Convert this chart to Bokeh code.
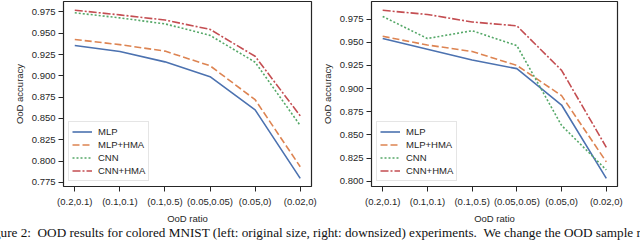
from bokeh.plotting import figure
from bokeh.models import FixedTicker, Range1d, Legend, LegendItem, Div
from bokeh.layouts import row, column
from bokeh.embed import file_html
from bokeh.resources import INLINE

categories = ["(0.2,0.1)", "(0.1,0.1)", "(0.1,0.5)", "(0.05,0.05)", "(0.05,0)", "(0.02,0)"]
series_names = ["MLP", "MLP+HMA", "CNN", "CNN+HMA"]

left_mlp = [0.9355, 0.9286, 0.9164, 0.899, 0.860, 0.7796]
left_mlp_hma = [0.9427, 0.9366, 0.929, 0.9118, 0.872, 0.7933]
left_cnn = [0.974, 0.968, 0.961, 0.9475, 0.916, 0.8417]
left_cnn_hma = [0.977, 0.9715, 0.9655, 0.9545, 0.9229, 0.853]

right_mlp = [0.954, 0.9425, 0.9309, 0.9215, 0.8823, 0.8032]
right_mlp_hma = [0.9564, 0.947, 0.940, 0.925, 0.8924, 0.821]
right_cnn = [0.9778, 0.954, 0.9624, 0.9463, 0.8603, 0.8123]
right_cnn_hma = [0.9844, 0.9799, 0.9718, 0.9677, 0.9197, 0.8367]

left_ticks = [0.775, 0.800, 0.825, 0.850, 0.875, 0.900, 0.925, 0.950, 0.975]
right_ticks = [0.800, 0.825, 0.850, 0.875, 0.900, 0.925, 0.950, 0.975]

caption_text = ("Figure 2: &nbsp;OOD results for colored MNIST (left: original size, right: downsized) "
                "experiments. &nbsp;We change the OOD sample ratio")

colors = ["#4c72b0", "#dd8452", "#55a868", "#c44e52"]
dashes = ["solid", "7 3", "2 2", "8 2 2 2"]

FONT = "Liberation Sans"
TXT = "#262626"


def make_panel(series, yr, yticks, width, bl, br):
    p = figure(width=width, height=226, output_backend="svg", toolbar_location=None,
               x_range=Range1d(-0.25, 5.25), y_range=Range1d(*yr),
               min_border_left=bl, min_border_right=br, min_border_top=1,
               min_border_bottom=35)
    p.grid.visible = False
    p.outline_line_color = "#262626"
    p.outline_line_width = 1.2
    p.background_fill_color = "white"
    p.border_fill_color = "white"
    xs = list(range(len(categories)))
    items = []
    for name, ys, c, d in zip(series_names, series, colors, dashes):
        r = p.line(xs, ys, line_color=c, line_width=1.6, line_dash=d)
        items.append(LegendItem(label=name, renderers=[r]))
    for ax in (p.xaxis[0], p.yaxis[0]):
        ax.axis_line_color = None
        ax.major_tick_line_color = "#262626"
        ax.major_tick_line_width = 1
        ax.major_tick_out = 5
        ax.major_tick_in = 0
        ax.minor_tick_line_color = None
        ax.major_label_text_font = FONT
        ax.major_label_text_font_size = "9.5px"
        ax.major_label_text_color = TXT
        ax.axis_label_text_font = FONT
        ax.axis_label_text_font_size = "9.5px"
        ax.axis_label_text_font_style = "normal"
        ax.axis_label_text_color = TXT
    p.xaxis.ticker = FixedTicker(ticks=xs)
    p.xaxis.major_label_overrides = {i: c for i, c in enumerate(categories)}
    p.xaxis.major_label_standoff = 4
    p.xaxis.axis_label = "OoD ratio"
    p.xaxis.axis_label_standoff = 3
    p.yaxis.ticker = FixedTicker(ticks=yticks)
    p.yaxis.major_label_overrides = {t: "%.3f" % t for t in yticks}
    p.yaxis.major_label_standoff = 3
    p.yaxis.axis_label = "OoD accuracy"
    p.yaxis.axis_label_standoff = 4
    leg = Legend(items=items, location=(5, 5))
    leg.label_text_font = FONT
    leg.label_text_font_size = "9.5px"
    leg.label_text_color = TXT
    leg.label_height = 13
    leg.glyph_height = 13
    leg.glyph_width = 20
    leg.label_standoff = 6
    leg.spacing = 0
    leg.padding = 3
    leg.margin = 0
    leg.border_line_color = "#cccccc"
    leg.border_line_width = 1
    leg.background_fill_alpha = 0.8
    p.add_layout(leg, "center")
    return p


p1 = make_panel([left_mlp, left_mlp_hma, left_cnn, left_cnn_hma], (0.7701, 0.98723),
                left_ticks, 318, 63, 7)
p2 = make_panel([right_mlp, right_mlp_hma, right_cnn, right_cnn_hma], (0.79444, 0.9939),
                right_ticks, 322, 51, 23)

caption = Div(
    text=('<div style="position:relative; top:0px; width:640px; height:15px; overflow:hidden; '
          'white-space:nowrap; font-family:\'Liberation Serif\'; font-size:13.2px; line-height:13px; '
          'color:#111; text-indent:-17px;">' + caption_text + '</div>'),
    width=640, height=15, margin=(0, 0, 0, 0),
)

layout = column(row(p1, p2, spacing=0), caption, spacing=0)
open("out.html", "w").write(file_html(layout, INLINE))
